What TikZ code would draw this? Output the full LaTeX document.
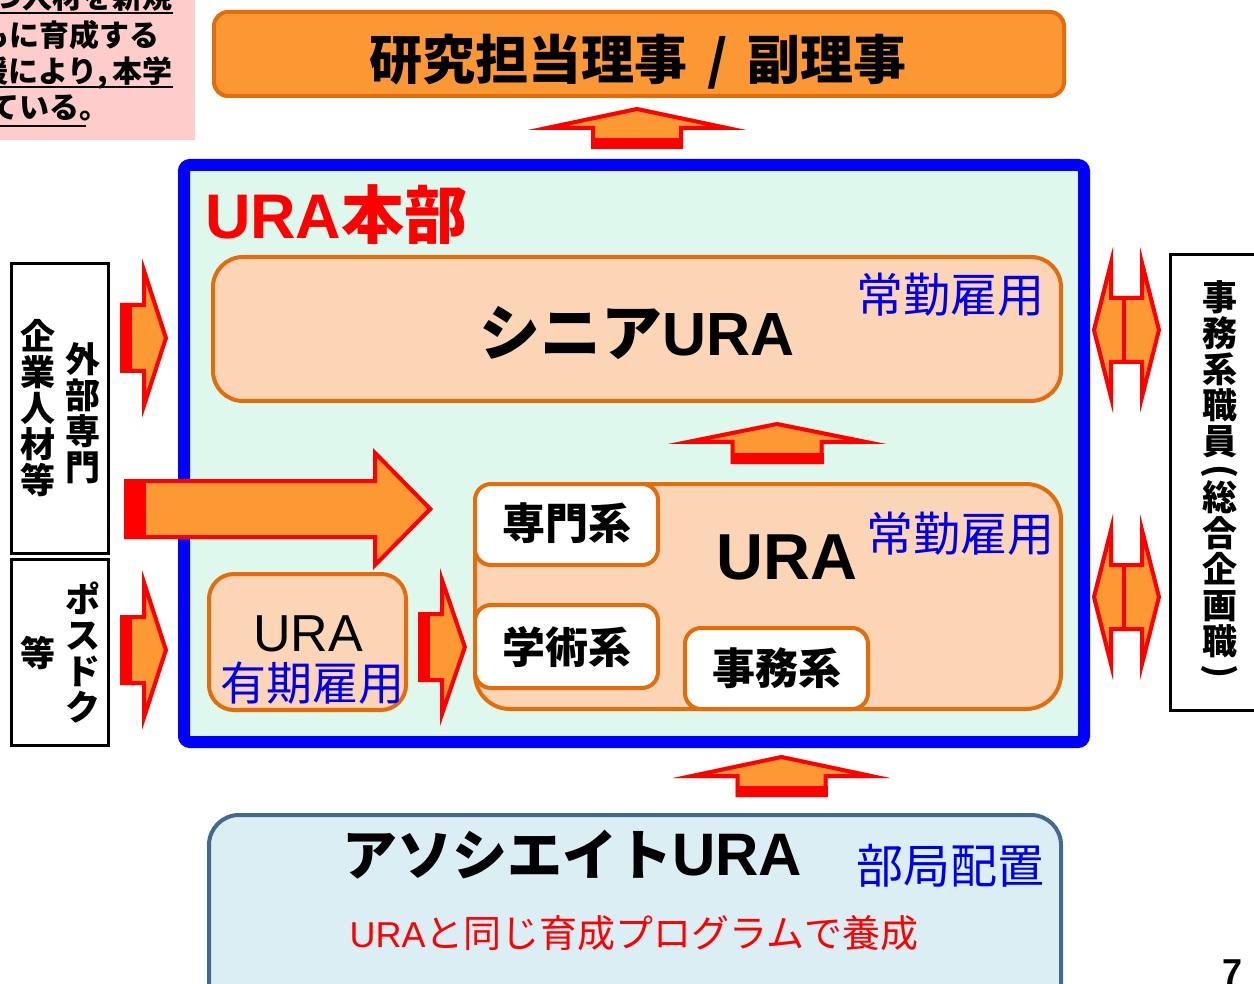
\documentclass[tikz,border=0pt]{standalone}
\usepackage{fontspec}
\usepackage{graphicx}
\setmainfont{Noto Sans CJK JP}
\newfontfamily\lat{Liberation Sans}
\newcommand\fsz[1]{\fontsize{#1}{#1}\selectfont}
\definecolor{orangefill}{RGB}{252,152,52}
\definecolor{orangeline}{RGB}{228,108,10}
\definecolor{peach}{RGB}{251,213,181}
\definecolor{mint}{RGB}{222,248,238}
\definecolor{hqblue}{RGB}{0,0,255}
\definecolor{arrred}{RGB}{255,0,0}
\definecolor{arrorange}{RGB}{253,153,51}
\definecolor{txtblue}{RGB}{0,0,240}
\definecolor{pinkbg}{RGB}{255,204,204}
\definecolor{assocfill}{RGB}{219,238,244}
\definecolor{assocline}{RGB}{65,105,145}
\tikzset{
 box/.style={inner sep=0, outer sep=0},
 titlebox/.style={box, draw=orangeline, fill=orangefill, line width=4, rounded corners=14},
 pbox/.style={box, draw=orangeline, fill=peach, line width=4},
 wbox/.style={box, draw=orangeline, fill=white, line width=4, rounded corners=16},
 hq/.style={box, draw=hqblue, fill=mint, line width=12, rounded corners=6},
 sidebox/.style={box, draw=black, line width=3, fill=white},
 assoc/.style={box, draw=assocline, fill=assocfill, line width=4, rounded corners=30},
 txt/.style={inner sep=0, outer sep=0},
 bluetxt/.style={txt, text=txtblue, font=\fsz{47}},
 vtext/.style={txt, align=center, font=\bfseries\fontsize{35}{36}\selectfont},
 pinktext/.style={txt, font=\bfseries\fsz{30}},
 arrfill/.style={color=arrorange},
 arrline/.style={color=arrred}
}
% block arrow: orange body, red inner outline
\newcommand\blockarrow[2][8]{%
  \begin{scope}
    \clip #2;
    \fill[arrfill] #2;
    \draw[arrline, line width=#1, line join=miter] #2;
  \end{scope}}
% up arrow: cx, tip y, head base y, bottom y, head half width, shaft half width
\newcommand\uparr[6]{%
  \blockarrow{(#1,#2) -- (#1+#5,#3) -- (#1+#6,#3) -- (#1+#6,#4) -- (#1-#6,#4) -- (#1-#6,#3) -- (#1-#5,#3) -- cycle}
  \fill[arrline] (#1-#6,#4-11) rectangle (#1+#6,#4);}
% right arrow: tail x, cy, head base x, tip x, head half height, shaft half height, band
\newcommand\rarr[7]{%
  \blockarrow{(#1,#2-#6) -- (#3,#2-#6) -- (#3,#2-#5) -- (#4,#2) -- (#3,#2+#5) -- (#3,#2+#6) -- (#1,#2+#6) -- cycle}
  \fill[arrline] (#1,#2-#6) rectangle (#1+#7,#2+#6);}
% double arrow (left-right), cy
\newcommand\dblarr[1]{%
  \blockarrow{(1092,#1) -- (1113,#1-83) -- (1113,#1-34) -- (1140,#1-34) -- (1140,#1-83) -- (1161,#1) -- (1140,#1+83) -- (1140,#1+34) -- (1113,#1+34) -- (1113,#1+83) -- cycle}
  \draw[arrline, line width=4] (1124,#1-34) -- (1124,#1+34);}

\begin{document}
\begin{tikzpicture}[x=1pt,y=-1pt]
\useasboundingbox (0,0) rectangle (1254,984);
\fill[white] (0,0) rectangle (1254,984);

% pink note (cut off)
\fill[pinkbg] (0,0) rectangle (195,140);
\begin{scope}
  \clip (0,0) rectangle (195,140);
  \node[pinktext, anchor=base east] (p1) at (173,9) {持つ人材を新規};
  \node[pinktext, anchor=base east] (p2) at (160,47) {ともに育成する};
  \node[pinktext, anchor=base east] (p3) at (173,83) {支援により,\,本学};
  \node[pinktext, anchor=base west] (p4) at (-10,119) {ている。};
  \draw[line width=2] (0,13) -- (173,13);
  \draw[line width=2] (0,87) -- (173,87);
  \draw[line width=2] (0,126) -- (86,126);
\end{scope}

% title
\node[titlebox, minimum width=850, minimum height=84] (title) at (639,54) {};
\node[txt, font=\bfseries\fsz{53}] (titletext) at (638,62) {研究担当理事\hspace{20pt}/\hspace{20pt}副理事};

\uparr{637}{107}{130}{149}{109}{46}

% URA headquarters
\node[hq, minimum width=900, minimum height=577] (hq) at (634,453.5) {};
\node[txt, anchor=west, text=arrred, font=\bfseries\fsz{63}] (hqtext) at (205,215) {{\lat URA}本部};

% senior URA
\node[pbox, rounded corners=30, minimum width=848, minimum height=144] (senior) at (637,329) {};
\node[txt, font=\bfseries\fsz{61}] (seniortext) at (637,333) {シニア{\lat URA}};
\node[bluetxt] (senioremp) at (950,295) {常勤雇用};

\uparr{777}{422}{444}{464}{109}{46.5}

% URA
\node[pbox, rounded corners=35, minimum width=586, minimum height=225] (ura) at (768,596.5) {};
\node[txt, font=\bfseries\lat\fsz{65}] (uratext) at (787,557) {URA};
\node[bluetxt] (uraemp) at (960,534) {常勤雇用};
\node[wbox, minimum width=183, minimum height=81] (senmon) at (566.5,524.5) {};
\node[txt, font=\bfseries\fsz{43}] (senmontext) at (567,523) {専門系};
\node[wbox, minimum width=183, minimum height=83] (gakujutsu) at (566.5,646.5) {};
\node[txt, font=\bfseries\fsz{43}] (gakujutsutext) at (567,647) {学術系};
\node[wbox, minimum width=183, minimum height=81] (jimu) at (776.5,668.5) {};
\node[txt, font=\bfseries\fsz{43}] (jimutext) at (777,668) {事務系};

% fixed-term URA
\node[pbox, rounded corners=25, minimum width=197, minimum height=136] (fixed) at (307.5,642) {};
\node[txt, font=\lat\fsz{52}] (fixedura) at (308,634) {URA};
\node[txt, text=txtblue, font=\fsz{46}] (fixedemp) at (312,683) {有期雇用};

\rarr{418}{647}{440}{467}{79}{35}{12}
\rarr{124}{509}{373}{433}{61}{30}{22}

% left sources
\node[sidebox, minimum width=97, minimum height=290] (ext) at (60,408.5) {};
\node[vtext] (ext1) at (83,413) {外\\部\\専\\門};
\node[vtext] (ext2) at (38,408.5) {企\\業\\人\\材\\等};
\node[sidebox, minimum width=97, minimum height=186] (postdoc) at (60,652.5) {};
\node[vtext] (pd1) at (83,653) {ポ\\ス\\ド\\ク};
\node[vtext] (pd2) at (38,653) {等};
\rarr{120}{338}{142}{168}{80}{35}{12}
\rarr{120}{650}{142}{168}{80}{35}{12}

% right staff
\dblarr{330}
\dblarr{597}
\node[sidebox, minimum width=129, minimum height=456] (staff) at (1235,482.5) {};
\node[vtext] (stafftext) at (1220,481.5) {事\\務\\系\\職\\員\\[-8pt]\rotatebox[origin=c]{-90}{(}\\[-8pt]総\\合\\企\\画\\職\\[-8pt]\rotatebox[origin=c]{-90}{)}};

% associate URA
\uparr{781.5}{755}{778}{797}{108.5}{46}
\node[assoc, minimum width=852, minimum height=205] (assocbox) at (635,917.5) {};
\node[txt, font=\bfseries\fsz{55}] (assoctext) at (572,855) {アソシエイト{\lat\fsz{60}URA}};
\node[bluetxt] (assocemp) at (950,866) {部局配置};
\node[txt, text=arrred, font=\fsz{38}] (assocsub) at (634,933) {{\lat\fsz{36}URA}と同じ育成プログラムで養成};

% page number
\node[txt, anchor=base, font=\bfseries\lat\fsz{36}] (pagenum) at (1232,984) {7};
\end{tikzpicture}
\end{document}
